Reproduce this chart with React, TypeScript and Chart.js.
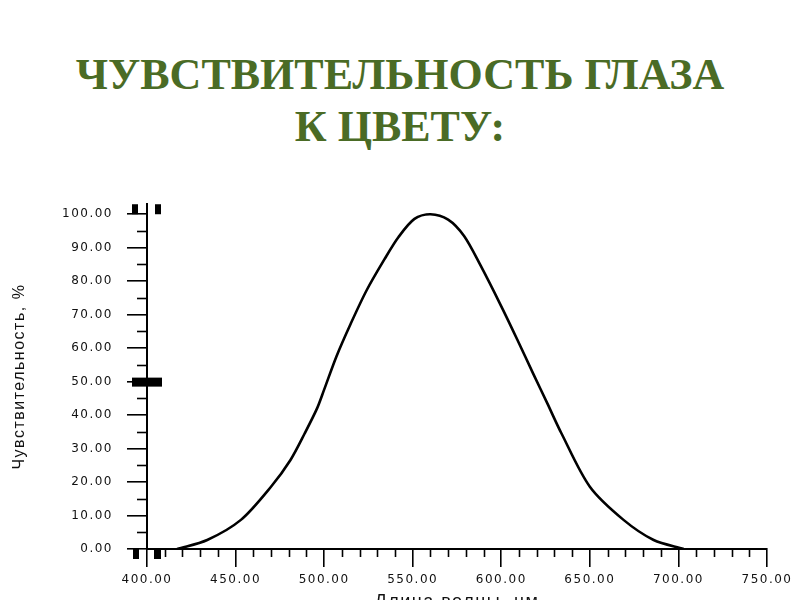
import React, { useEffect, useRef } from "react";
import { Chart, registerables } from "chart.js";

Chart.register(...registerables);

// ---- data ----
const titleLines: string[] = ["ЧУВСТВИТЕЛЬНОСТЬ ГЛАЗА", "К ЦВЕТУ:"];
const xAxisTitle = "Длина волны, нм";
const yAxisTitle = "Чувствительность, %";

const wavelengths: number[] = [
  417, 434, 453, 470, 481, 489, 496, 500, 507, 515, 524, 534, 542, 551, 560,
  570, 579, 588, 600, 609, 618, 626, 634, 650, 669, 686, 703,
];
const sensitivity: number[] = [
  0, 2.7, 8.7, 18.6, 26.6, 34.5, 42.0, 47.6, 57.6, 67.3, 77.3, 86.5, 93.2,
  98.6, 100, 98.4, 93.5, 85.0, 72.5, 62.6, 52.4, 43.5, 34.5, 18.6, 8.7, 2.7, 0,
];

const xMin = 400;
const xMax = 750;
const xMajorStep = 50;
const xMinorStep = 10;
const yMin = 0;
const yMaxTick = 100;
const yMajorStep = 10;
const yMinorStep = 5;
const markerLevels: number[] = [100, 50, 0];

const minorTicksPlugin = {
  id: "minorTicks",
  afterDraw(chart: any) {
    const ctx = chart.ctx;
    const xs = chart.scales.x;
    const ys = chart.scales.y;
    const axisY = ys.getPixelForValue(0);
    const axisX = xs.getPixelForValue(xMin);
    ctx.save();
    ctx.strokeStyle = "#000";
    ctx.fillStyle = "#000";
    ctx.lineWidth = 1.6;
    for (let v = xMin + xMinorStep; v < xMax; v += xMinorStep) {
      if (v % xMajorStep === 0) continue;
      const px = Math.round(xs.getPixelForValue(v)) + 0.5;
      ctx.beginPath();
      ctx.moveTo(px, axisY);
      ctx.lineTo(px, axisY + 8);
      ctx.stroke();
    }
    for (let v = yMin + yMinorStep; v < yMaxTick; v += yMajorStep) {
      const py = Math.round(ys.getPixelForValue(v)) + 0.5;
      ctx.beginPath();
      ctx.moveTo(axisX - 10, py);
      ctx.lineTo(axisX, py);
      ctx.stroke();
    }
    // cursor markers on the axis
    markerLevels.forEach((lvl, i) => {
      const py = ys.getPixelForValue(lvl);
      if (i === 0) {
        ctx.fillRect(axisX - 15, py - 10, 6, 10);
        ctx.fillRect(axisX + 8, py - 10, 6, 10);
      } else if (i === markerLevels.length - 1) {
        ctx.fillRect(axisX - 14, py, 6, 10);
        ctx.fillRect(axisX + 7, py, 7, 10);
      } else {
        ctx.fillRect(axisX - 15, py - 4, 30, 9);
      }
    });
    ctx.restore();
  },
};

const spacingPlugin = {
  id: "spacing",
  beforeDraw(chart: any) {
    chart.ctx.letterSpacing = "1.5px";
  },
  afterDraw(chart: any) {
    chart.ctx.letterSpacing = "0px";
  },
};

const sansFamily = "'DejaVu Sans', 'Liberation Sans', sans-serif";
const titleFamily = "'Liberation Sans', Arial, sans-serif";

function SensitivityChart() {
  const ref = useRef<HTMLCanvasElement | null>(null);
  useEffect(() => {
    if (!ref.current) return;
    const chart = new Chart(ref.current, {
      type: "line",
      data: {
        datasets: [
          {
            data: wavelengths.map((x, i) => ({ x, y: sensitivity[i] })),
            borderColor: "#000",
            borderWidth: 2.6,
            pointRadius: 0,
            fill: false,
            tension: 0.3,
          },
        ],
      },
      options: {
        animation: false,
        responsive: false,
        layout: { padding: { top: 6, right: 33, left: 0, bottom: 0 } },
        plugins: {
          legend: { display: false },
          tooltip: { enabled: false },
        },
        scales: {
          x: {
            type: "linear",
            min: xMin,
            max: xMax,
            border: { display: true, color: "#000", width: 2 },
            grid: {
              display: true,
              drawOnChartArea: false,
              drawTicks: true,
              tickLength: 18,
              color: "#000",
              lineWidth: 1.6,
            },
            ticks: {
              stepSize: xMajorStep,
              autoSkip: false,
              maxRotation: 0,
              padding: 6,
              color: "#111",
              font: { family: sansFamily, size: 12 },
              callback: (v: any) => Number(v).toFixed(2),
            },
            title: {
              display: true,
              text: xAxisTitle,
              color: "#111",
              font: { family: titleFamily, size: 18, lineHeight: 1.2 },
              padding: { top: 0, bottom: 7 },
            },
            afterFit: (s: any) => {
              s.height = 71;
            },
          },
          y: {
            type: "linear",
            min: yMin,
            max: 103,
            afterBuildTicks: (s: any) => {
              const t: any[] = [];
              for (let v = yMin; v <= yMaxTick; v += yMajorStep) t.push({ value: v });
              s.ticks = t;
            },
            border: { display: true, color: "#000", width: 2 },
            grid: {
              display: true,
              drawOnChartArea: false,
              drawTicks: true,
              tickLength: 20,
              color: "#000",
              lineWidth: 1.6,
            },
            ticks: {
              stepSize: yMajorStep,
              padding: 14,
              color: "#111",
              font: { family: sansFamily, size: 12 },
              callback: (v: any) => Number(v).toFixed(2),
            },
            title: {
              display: true,
              text: yAxisTitle,
              color: "#111",
              font: { family: titleFamily, size: 16, lineHeight: 1.2 },
              padding: { top: 10, bottom: 0 },
            },
            afterFit: (s: any) => {
              s.width = 147;
            },
          },
        },
      } as any,
      plugins: [spacingPlugin, minorTicksPlugin],
    });
    return () => chart.destroy();
  }, []);
  return (
    <canvas
      ref={ref}
      width={800}
      height={437}
      style={{ position: "absolute", left: 0, top: 183, width: 800, height: 437 }}
    />
  );
}

export default function App() {
  return (
    <div
      style={{
        position: "fixed",
        left: 0,
        top: 0,
        width: 800,
        height: 600,
        overflow: "hidden",
        background: "#fff",
      }}
    >
      <div
        style={{
          position: "absolute",
          left: 0,
          top: 49,
          width: 800,
          textAlign: "center",
          fontFamily: "'Liberation Serif', 'Times New Roman', serif",
          fontWeight: "bold",
          fontSize: 44,
          lineHeight: "52px",
          color: "#4a6b25",
        }}
      >
        {titleLines.map((t) => (
          <div key={t}>{t}</div>
        ))}
      </div>
      <SensitivityChart />
    </div>
  );
}
